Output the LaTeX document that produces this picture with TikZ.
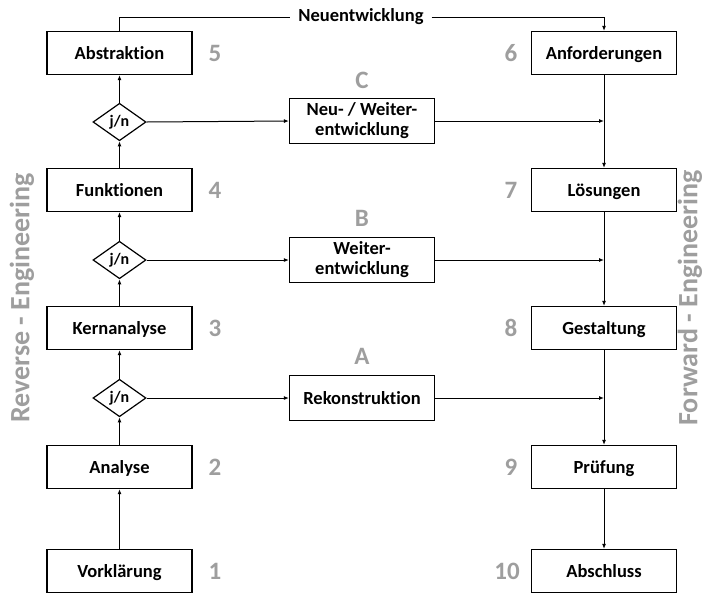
\documentclass[tikz,border=0pt]{standalone}
\usepackage{fontspec}
\setmainfont{Carlito}[Ligatures=NoCommon]
\usetikzlibrary{positioning, arrows.meta, shapes.geometric}
\definecolor{labelgray}{RGB}{158,158,158}

\begin{document}
\begin{tikzpicture}[x=1pt, y=-1pt,
                stepbox/.style={draw, line width=1.2pt, minimum width=145pt,
                    minimum height=43pt, text height=16pt, text depth=3pt,
                    font=\fontsize{18.5}{21}\selectfont\bfseries},
                midbox/.style={draw, line width=1.2pt, minimum width=145pt,
                    minimum height=45pt, align=center,
                    font=\fontsize{18.5}{20}\selectfont\bfseries},
                query/.style={draw, diamond, line width=1.2pt, inner sep=1pt,
                    minimum width=53pt, minimum height=34pt,
                    font=\fontsize{16}{18}\selectfont\bfseries},
                nr/.style={text=labelgray, text height=16pt, text depth=0pt,
                    font=\fontsize{25}{27}\selectfont\bfseries},
                side/.style={text=labelgray, rotate=90,
                    font=\fontsize{28}{30}\selectfont\bfseries},
                arr/.style={-{Latex[length=5pt, width=4pt]}, line width=1pt}
            ]
            \useasboundingbox (0,0) rectangle (711,595);

            % Reverse Engineering
            \node[stepbox] (vork) at (119.5, 571) {Vorklärung};
            \node[stepbox] (ana)  at (119.5, 467) {Analyse};
            \node[stepbox] (kern) at (119.5, 328) {Kernanalyse};
            \node[stepbox] (funk) at (119.5, 190) {Funktionen};
            \node[stepbox] (abs)  at (119.5, 53)  {Abstraktion};
            \node[query] (qa) at (119.5, 398) {j/n};
            \node[query] (qb) at (119.5, 260) {j/n};
            \node[query] (qc) at (119.5, 122) {j/n};

            % Forward Engineering
            \node[stepbox] (anf)  at (604, 53)  {Anforderungen};
            \node[stepbox] (loes) at (604, 190) {Lösungen};
            \node[stepbox] (ges)  at (604, 328) {Gestaltung};
            \node[stepbox] (pruef) at (604, 467) {Prüfung};
            \node[stepbox] (absch) at (604, 571) {Abschluss};

            % A, B, C
            \node[midbox] (rek) at (362, 398) {Rekonstruktion};
            \node[midbox] (weit) at (362, 260) {Weiter-\\entwicklung};
            \node[midbox] (neuw) at (362, 121) {Neu- / Weiter-\\entwicklung};
            \node[nr] (la) at (362, 356) {A};
            \node[nr] (lb) at (362, 218) {B};
            \node[nr] (lc) at (362, 80)  {C};

            % numbers
            \node[nr] (n1) at (215, 571) {1};
            \node[nr] (n2) at (215, 467) {2};
            \node[nr] (n3) at (215, 328) {3};
            \node[nr] (n4) at (215, 190) {4};
            \node[nr] (n5) at (215, 53)  {5};
            \node[nr] (n6) at (511, 53)  {6};
            \node[nr] (n7) at (511, 190) {7};
            \node[nr] (n8) at (511, 328) {8};
            \node[nr] (n9) at (511, 467) {9};
            \node[nr] (n10) at (507, 571) {10};

            \node[side] (rev) at (22, 298) {Reverse - Engineering};
            \node[side] (fwd) at (690, 298) {Forward - Engineering};

            % Neuentwicklung
            \node[font=\fontsize{18.5}{20}\selectfont\bfseries, inner xsep=8pt]
                (neu) at (361, 17) {Neuentwicklung};
            \draw[line width=1pt] (abs.north) |- (neu.west);
            \draw[arr] (neu.east) -| (anf.north);

            % left column
            \draw[arr] (vork) -- (ana);
            \draw[arr] (ana) -- (qa);
            \draw[arr] (qa) -- (kern);
            \draw[arr] (kern) -- (qb);
            \draw[arr] (qb) -- (funk);
            \draw[arr] (funk) -- (qc);
            \draw[arr] (qc) -- (abs);

            % right column
            \draw[arr] (anf) -- (loes);
            \draw[arr] (loes) -- (ges);
            \draw[arr] (ges) -- (pruef);
            \draw[arr] (pruef) -- (absch);

            % branches
            \draw[arr] (qa.east) -- (rek.west);
            \draw[arr] (qb.east) -- (weit.west);
            \draw[arr] (qc.east) -- (neuw.west);
            \draw[arr] (rek.east) -- (rek.east -| ges.south);
            \draw[arr] (weit.east) -- (weit.east -| loes.south);
            \draw[arr] (neuw.east) -- (neuw.east -| anf.south);

            \end{tikzpicture}
\end{document}
